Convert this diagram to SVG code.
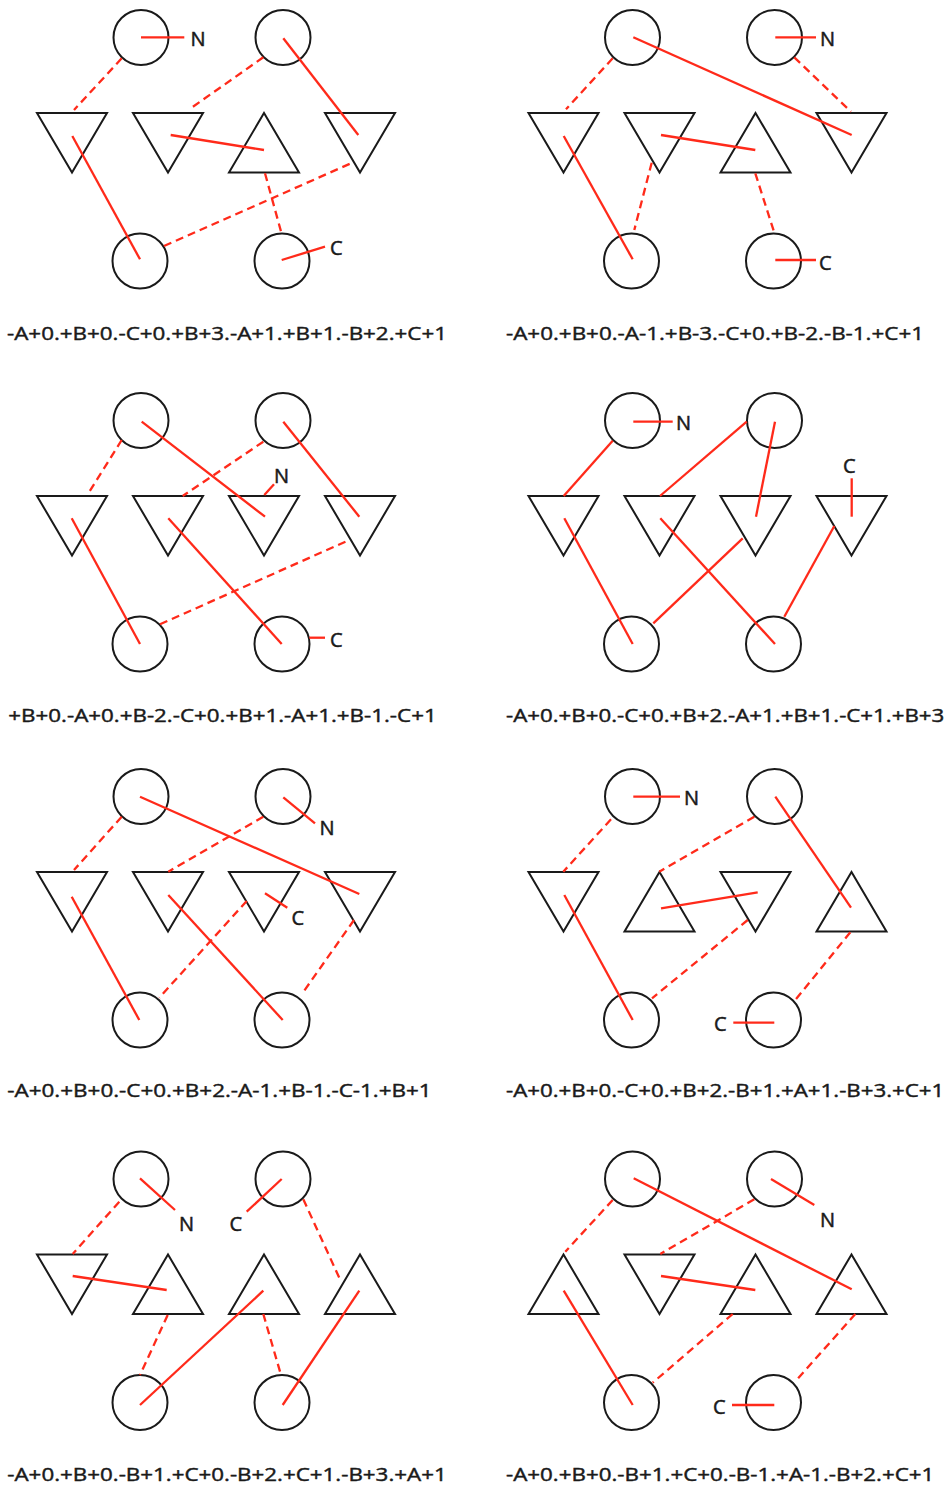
<svg xmlns="http://www.w3.org/2000/svg" width="951" height="1490" viewBox="0 0 951 1490">
<style>
.c{fill:none;stroke:#1a1a1a;stroke-width:2}
.t{fill:none;stroke:#1a1a1a;stroke-width:2;stroke-linejoin:miter}
.s{stroke:#ff2a1a;stroke-width:2.3;fill:none}
.d{stroke:#ff2a1a;stroke-width:2.3;fill:none;stroke-dasharray:8 5}
.lb{font-family:"Open Sans","Liberation Sans",sans-serif;font-size:20px;fill:#1a1a1a;stroke:#1a1a1a;stroke-width:0.5}
.cap{font-family:"Open Sans","Liberation Sans",sans-serif;font-size:19px;fill:#1a1a1a;stroke:#1a1a1a;stroke-width:0.45}
</style>
<rect width="951" height="1490" fill="#ffffff"/>
<defs>
<polygon id="dn" points="-35,113 35,113 0,172.5"/>
<polygon id="up" points="-35,172.5 35,172.5 0,113"/>
</defs>

<!-- Panel 1 -->
<g id="p1" transform="translate(0,0)">
<g id="p1-top1"><circle class="c" cx="141" cy="37.5" r="27.5"/></g>
<g id="p1-top2"><circle class="c" cx="283" cy="37.5" r="27.5"/></g>
<g id="p1-t1"><use href="#dn" x="72" class="t"/></g>
<g id="p1-t2"><use href="#dn" x="168" class="t"/></g>
<g id="p1-t3"><use href="#up" x="264" class="t"/></g>
<g id="p1-t4"><use href="#dn" x="360" class="t"/></g>
<g id="p1-bot1"><circle class="c" cx="140" cy="261" r="27.5"/></g>
<g id="p1-bot2"><circle class="c" cx="282" cy="261" r="27.5"/></g>
</g>
<!-- Panel 2 -->
<g id="p2" transform="translate(491.5,0)">
<g id="p2-top1"><circle class="c" cx="141" cy="37.5" r="27.5"/></g>
<g id="p2-top2"><circle class="c" cx="283" cy="37.5" r="27.5"/></g>
<g id="p2-t1"><use href="#dn" x="72" class="t"/></g>
<g id="p2-t2"><use href="#dn" x="168" class="t"/></g>
<g id="p2-t3"><use href="#up" x="264" class="t"/></g>
<g id="p2-t4"><use href="#dn" x="360" class="t"/></g>
<g id="p2-bot1"><circle class="c" cx="140" cy="261" r="27.5"/></g>
<g id="p2-bot2"><circle class="c" cx="282" cy="261" r="27.5"/></g>
</g>
<!-- Panel 3 -->
<g id="p3" transform="translate(0,383)">
<g id="p3-top1"><circle class="c" cx="141" cy="37.5" r="27.5"/></g>
<g id="p3-top2"><circle class="c" cx="283" cy="37.5" r="27.5"/></g>
<g id="p3-t1"><use href="#dn" x="72" class="t"/></g>
<g id="p3-t2"><use href="#dn" x="168" class="t"/></g>
<g id="p3-t3"><use href="#dn" x="264" class="t"/></g>
<g id="p3-t4"><use href="#dn" x="360" class="t"/></g>
<g id="p3-bot1"><circle class="c" cx="140" cy="261" r="27.5"/></g>
<g id="p3-bot2"><circle class="c" cx="282" cy="261" r="27.5"/></g>
</g>
<!-- Panel 4 -->
<g id="p4" transform="translate(491.5,383)">
<g id="p4-top1"><circle class="c" cx="141" cy="37.5" r="27.5"/></g>
<g id="p4-top2"><circle class="c" cx="283" cy="37.5" r="27.5"/></g>
<g id="p4-t1"><use href="#dn" x="72" class="t"/></g>
<g id="p4-t2"><use href="#dn" x="168" class="t"/></g>
<g id="p4-t3"><use href="#dn" x="264" class="t"/></g>
<g id="p4-t4"><use href="#dn" x="360" class="t"/></g>
<g id="p4-bot1"><circle class="c" cx="140" cy="261" r="27.5"/></g>
<g id="p4-bot2"><circle class="c" cx="282" cy="261" r="27.5"/></g>
</g>
<!-- Panel 5 -->
<g id="p5" transform="translate(0,759)">
<g id="p5-top1"><circle class="c" cx="141" cy="37.5" r="27.5"/></g>
<g id="p5-top2"><circle class="c" cx="283" cy="37.5" r="27.5"/></g>
<g id="p5-t1"><use href="#dn" x="72" class="t"/></g>
<g id="p5-t2"><use href="#dn" x="168" class="t"/></g>
<g id="p5-t3"><use href="#dn" x="264" class="t"/></g>
<g id="p5-t4"><use href="#dn" x="360" class="t"/></g>
<g id="p5-bot1"><circle class="c" cx="140" cy="261" r="27.5"/></g>
<g id="p5-bot2"><circle class="c" cx="282" cy="261" r="27.5"/></g>
</g>
<!-- Panel 6 -->
<g id="p6" transform="translate(491.5,759)">
<g id="p6-top1"><circle class="c" cx="141" cy="37.5" r="27.5"/></g>
<g id="p6-top2"><circle class="c" cx="283" cy="37.5" r="27.5"/></g>
<g id="p6-t1"><use href="#dn" x="72" class="t"/></g>
<g id="p6-t2"><use href="#up" x="168" class="t"/></g>
<g id="p6-t3"><use href="#dn" x="264" class="t"/></g>
<g id="p6-t4"><use href="#up" x="360" class="t"/></g>
<g id="p6-bot1"><circle class="c" cx="140" cy="261" r="27.5"/></g>
<g id="p6-bot2"><circle class="c" cx="282" cy="261" r="27.5"/></g>
</g>
<!-- Panel 7 -->
<g id="p7" transform="translate(0,1141.5)">
<g id="p7-top1"><circle class="c" cx="141" cy="37.5" r="27.5"/></g>
<g id="p7-top2"><circle class="c" cx="283" cy="37.5" r="27.5"/></g>
<g id="p7-t1"><use href="#dn" x="72" class="t"/></g>
<g id="p7-t2"><use href="#up" x="168" class="t"/></g>
<g id="p7-t3"><use href="#up" x="264" class="t"/></g>
<g id="p7-t4"><use href="#up" x="360" class="t"/></g>
<g id="p7-bot1"><circle class="c" cx="140" cy="261" r="27.5"/></g>
<g id="p7-bot2"><circle class="c" cx="282" cy="261" r="27.5"/></g>
</g>
<!-- Panel 8 -->
<g id="p8" transform="translate(491.5,1141.5)">
<g id="p8-top1"><circle class="c" cx="141" cy="37.5" r="27.5"/></g>
<g id="p8-top2"><circle class="c" cx="283" cy="37.5" r="27.5"/></g>
<g id="p8-t1"><use href="#up" x="72" class="t"/></g>
<g id="p8-t2"><use href="#dn" x="168" class="t"/></g>
<g id="p8-t3"><use href="#up" x="264" class="t"/></g>
<g id="p8-t4"><use href="#up" x="360" class="t"/></g>
<g id="p8-bot1"><circle class="c" cx="140" cy="261" r="27.5"/></g>
<g id="p8-bot2"><circle class="c" cx="282" cy="261" r="27.5"/></g>
</g>

<g id="connectors">
<!-- P1 -->
<line class="s" x1="141" y1="37.3" x2="184.3" y2="37.3"/>
<line class="d" x1="121.7" y1="58.3" x2="74" y2="110"/>
<line class="d" x1="263.3" y1="57.3" x2="189.3" y2="109.3"/>
<line class="s" x1="283.3" y1="38.3" x2="358.3" y2="135"/>
<line class="s" x1="170.7" y1="135" x2="264" y2="150"/>
<line class="s" x1="72.3" y1="136" x2="140" y2="259.3"/>
<line class="d" x1="164" y1="246" x2="353.3" y2="162.3"/>
<line class="d" x1="265" y1="173.3" x2="281.7" y2="234"/>
<line class="s" x1="281.7" y1="260" x2="325" y2="246.7"/>
<!-- P2 -->
<line class="s" x1="775.3" y1="37.3" x2="816" y2="37.3"/>
<line class="s" x1="633.3" y1="37.3" x2="851.7" y2="135"/>
<line class="d" x1="612.7" y1="58.3" x2="566" y2="109.3"/>
<line class="d" x1="794.3" y1="57.3" x2="851" y2="111.7"/>
<line class="s" x1="563.7" y1="136" x2="632.7" y2="259.3"/>
<line class="s" x1="661" y1="135" x2="755.3" y2="150"/>
<line class="d" x1="651.7" y1="162.7" x2="634.3" y2="230"/>
<line class="d" x1="755.3" y1="173.3" x2="774.3" y2="232.7"/>
<line class="s" x1="775.3" y1="260" x2="816" y2="260"/>
<!-- P3 -->
<line class="d" x1="121.7" y1="440" x2="87.3" y2="495"/>
<line class="d" x1="263.3" y1="441.7" x2="182.7" y2="496"/>
<line class="s" x1="141.7" y1="421.7" x2="265" y2="516.7"/>
<line class="s" x1="264.3" y1="495" x2="274" y2="484.3"/>
<line class="s" x1="283.3" y1="421.7" x2="359.3" y2="516.7"/>
<line class="s" x1="71.7" y1="518.3" x2="140" y2="644"/>
<line class="s" x1="168.3" y1="518.3" x2="281.7" y2="644"/>
<line class="d" x1="160" y1="624.3" x2="349.3" y2="540"/>
<line class="s" x1="309.3" y1="637.7" x2="325" y2="637.7"/>
<!-- P4 -->
<line class="s" x1="633.3" y1="421.7" x2="672.7" y2="421.7"/>
<line class="s" x1="612.7" y1="440.7" x2="563.7" y2="496"/>
<line class="s" x1="746.7" y1="421.7" x2="660" y2="496"/>
<line class="s" x1="775" y1="421.7" x2="756" y2="516.7"/>
<line class="s" x1="851.7" y1="478.3" x2="851.7" y2="516.7"/>
<line class="s" x1="564.3" y1="518.3" x2="632.7" y2="644"/>
<line class="s" x1="660.3" y1="518.3" x2="775" y2="644"/>
<line class="s" x1="742.7" y1="538.3" x2="653.3" y2="623.3"/>
<line class="s" x1="834.3" y1="526" x2="784.3" y2="616.7"/>
<!-- P5 -->
<line class="d" x1="121.7" y1="816.7" x2="74" y2="870"/>
<line class="d" x1="263.3" y1="816.7" x2="168.3" y2="871.7"/>
<line class="s" x1="140" y1="796.7" x2="359.3" y2="894"/>
<line class="s" x1="283.3" y1="797.3" x2="315" y2="823.3"/>
<line class="s" x1="265" y1="893.3" x2="287.3" y2="907.7"/>
<line class="s" x1="71.7" y1="896.7" x2="139.3" y2="1020"/>
<line class="s" x1="168.3" y1="895" x2="282.7" y2="1020"/>
<line class="d" x1="246.7" y1="901" x2="159.3" y2="997.7"/>
<line class="d" x1="354" y1="920" x2="301.7" y2="994.3"/>
<!-- P6 -->
<line class="s" x1="633.3" y1="796.7" x2="680" y2="796.7"/>
<line class="d" x1="611" y1="819.3" x2="563.3" y2="871.7"/>
<line class="d" x1="754.3" y1="816.7" x2="659.3" y2="871.7"/>
<line class="s" x1="775.3" y1="796.7" x2="851" y2="907.7"/>
<line class="s" x1="564.3" y1="895" x2="632.7" y2="1020"/>
<line class="s" x1="661" y1="908.3" x2="757.7" y2="892.3"/>
<line class="d" x1="747.7" y1="920" x2="652" y2="998.3"/>
<line class="d" x1="850.3" y1="932.3" x2="795.3" y2="1000"/>
<line class="s" x1="733.3" y1="1022.7" x2="774.3" y2="1022.7"/>
<!-- P7 -->
<line class="s" x1="140" y1="1178.3" x2="175" y2="1210"/>
<line class="s" x1="281.7" y1="1179" x2="246.7" y2="1211.7"/>
<line class="d" x1="119.3" y1="1201.7" x2="72.7" y2="1254"/>
<line class="d" x1="303.3" y1="1199.3" x2="340" y2="1279.3"/>
<line class="s" x1="72.7" y1="1276" x2="166.7" y2="1290"/>
<line class="d" x1="167.7" y1="1315" x2="140" y2="1375"/>
<line class="s" x1="263.3" y1="1290.7" x2="140" y2="1405"/>
<line class="d" x1="263.3" y1="1314" x2="281" y2="1375"/>
<line class="s" x1="359.3" y1="1290.7" x2="282.7" y2="1405"/>
<!-- P8 -->
<line class="s" x1="633.7" y1="1178.3" x2="851.7" y2="1289.3"/>
<line class="d" x1="612.7" y1="1200" x2="565.3" y2="1251.7"/>
<line class="s" x1="771" y1="1179" x2="814.3" y2="1205"/>
<line class="d" x1="754.3" y1="1199.3" x2="660.3" y2="1254"/>
<line class="s" x1="563.7" y1="1290.7" x2="632.7" y2="1405"/>
<line class="s" x1="661" y1="1276" x2="755.3" y2="1290"/>
<line class="d" x1="732.7" y1="1314" x2="652.7" y2="1382.7"/>
<line class="d" x1="855.3" y1="1314" x2="796" y2="1380.7"/>
<line class="s" x1="732" y1="1405" x2="774.3" y2="1405"/>
</g>

<g id="labels">
<text class="lb" x="190.5" y="46">N</text>
<text class="lb" x="330" y="254.5">C</text>
<text class="lb" x="820" y="46">N</text>
<text class="lb" x="819" y="269.5">C</text>
<text class="lb" x="274" y="482.5">N</text>
<text class="lb" x="330" y="646.5">C</text>
<text class="lb" x="676" y="430">N</text>
<text class="lb" x="843" y="472.5">C</text>
<text class="lb" x="319.5" y="835">N</text>
<text class="lb" x="291.5" y="925">C</text>
<text class="lb" x="684" y="805">N</text>
<text class="lb" x="714" y="1031">C</text>
<text class="lb" x="179" y="1231">N</text>
<text class="lb" x="229.5" y="1231">C</text>
<text class="lb" x="820" y="1227">N</text>
<text class="lb" x="713" y="1413.5">C</text>
</g>

<g id="captions">
<text class="cap" x="7" y="340" textLength="440" lengthAdjust="spacingAndGlyphs">-A+0.+B+0.-C+0.+B+3.-A+1.+B+1.-B+2.+C+1</text>
<text class="cap" x="506" y="340" textLength="418" lengthAdjust="spacingAndGlyphs">-A+0.+B+0.-A-1.+B-3.-C+0.+B-2.-B-1.+C+1</text>
<text class="cap" x="8.3" y="722" textLength="428.4" lengthAdjust="spacingAndGlyphs">+B+0.-A+0.+B-2.-C+0.+B+1.-A+1.+B-1.-C+1</text>
<text class="cap" x="506" y="722" textLength="438.3" lengthAdjust="spacingAndGlyphs">-A+0.+B+0.-C+0.+B+2.-A+1.+B+1.-C+1.+B+3</text>
<text class="cap" x="7.3" y="1097" textLength="424.4" lengthAdjust="spacingAndGlyphs">-A+0.+B+0.-C+0.+B+2.-A-1.+B-1.-C-1.+B+1</text>
<text class="cap" x="506" y="1097" textLength="438.3" lengthAdjust="spacingAndGlyphs">-A+0.+B+0.-C+0.+B+2.-B+1.+A+1.-B+3.+C+1</text>
<text class="cap" x="7.3" y="1480.5" textLength="439.4" lengthAdjust="spacingAndGlyphs">-A+0.+B+0.-B+1.+C+0.-B+2.+C+1.-B+3.+A+1</text>
<text class="cap" x="506" y="1480.5" textLength="428.3" lengthAdjust="spacingAndGlyphs">-A+0.+B+0.-B+1.+C+0.-B-1.+A-1.-B+2.+C+1</text>
</g>
</svg>
